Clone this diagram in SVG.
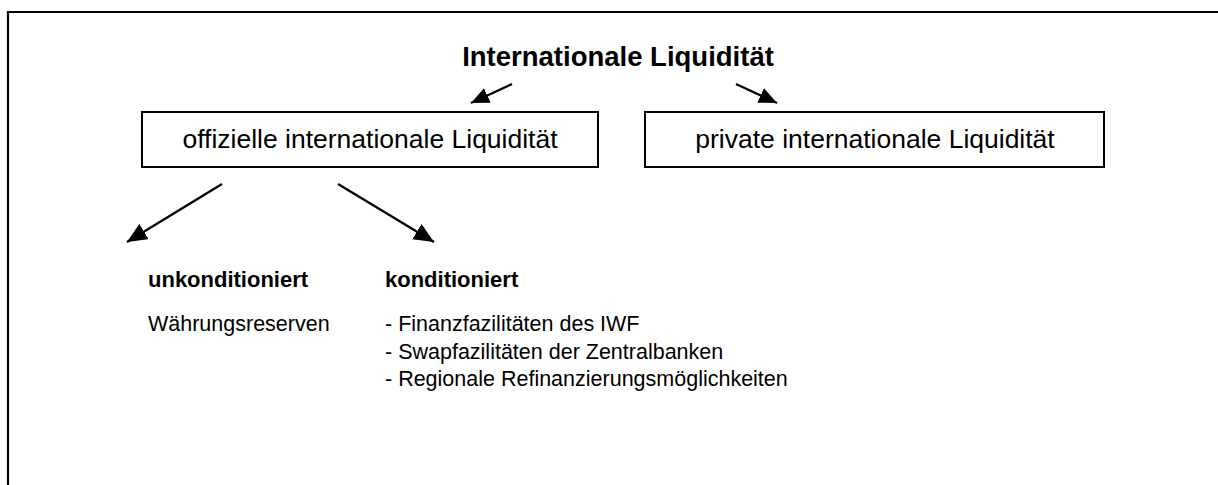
<svg xmlns="http://www.w3.org/2000/svg" width="1218" height="485" viewBox="0 0 1218 485">
  <style>
    text { font-family: "Liberation Sans", Arial, sans-serif; fill: #000; }
    .title { font-size: 27.5px; font-weight: bold; }
    .box { fill: #fff; stroke: #000; stroke-width: 2; }
    .boxtxt { font-size: 26.5px; }
    .head { font-size: 22px; font-weight: bold; }
    .item { font-size: 21.5px; }
    .conn { stroke: #000; stroke-width: 2.3; fill: none; }
  </style>
  <defs>
    <marker id="ahL" markerUnits="userSpaceOnUse" markerWidth="22" markerHeight="18" refX="20" refY="9" orient="auto">
      <path d="M0,0 L20,9 L0,18 z" fill="#000"/>
    </marker>
    <marker id="ahS" markerUnits="userSpaceOnUse" markerWidth="20" markerHeight="16" refX="18" refY="8" orient="auto">
      <path d="M0,0 L18,8 L0,16 z" fill="#000"/>
    </marker>
  </defs>
  <rect width="1218" height="485" fill="#fff"/>
  <path d="M8,486 V12 H1219" fill="none" stroke="#000" stroke-width="2.2"/>

  <g id="title">
    <text class="title" x="618" y="66" text-anchor="middle">Internationale Liquidität</text>
  </g>
  <g id="official">
    <rect class="box" x="142" y="112" width="456" height="55"/>
    <text class="boxtxt" x="370" y="148" text-anchor="middle">offizielle internationale Liquidität</text>
  </g>
  <g id="private">
    <rect class="box" x="645" y="112" width="459" height="55"/>
    <text class="boxtxt" x="875" y="148" text-anchor="middle">private internationale Liquidität</text>
  </g>
  <g id="unconditional">
    <text class="head" x="148" y="287">unkonditioniert</text>
    <text class="item" x="148" y="331">Währungsreserven</text>
  </g>
  <g id="conditional">
    <text class="head" x="385" y="287">konditioniert</text>
    <text class="item" x="385" y="331">- Finanzfazilitäten des IWF</text>
    <text class="item" x="385" y="359">- Swapfazilitäten der Zentralbanken</text>
    <text class="item" x="385" y="386">- Regionale Refinanzierungsmöglichkeiten</text>
  </g>
  <g id="connectors">
    <line class="conn" x1="512" y1="84" x2="471" y2="103" marker-end="url(#ahS)"/>
    <line class="conn" x1="736" y1="84" x2="777" y2="103" marker-end="url(#ahS)"/>
    <line class="conn" x1="222" y1="184" x2="127" y2="242" marker-end="url(#ahL)"/>
    <line class="conn" x1="338" y1="184" x2="434" y2="242" marker-end="url(#ahL)"/>
  </g>
</svg>
